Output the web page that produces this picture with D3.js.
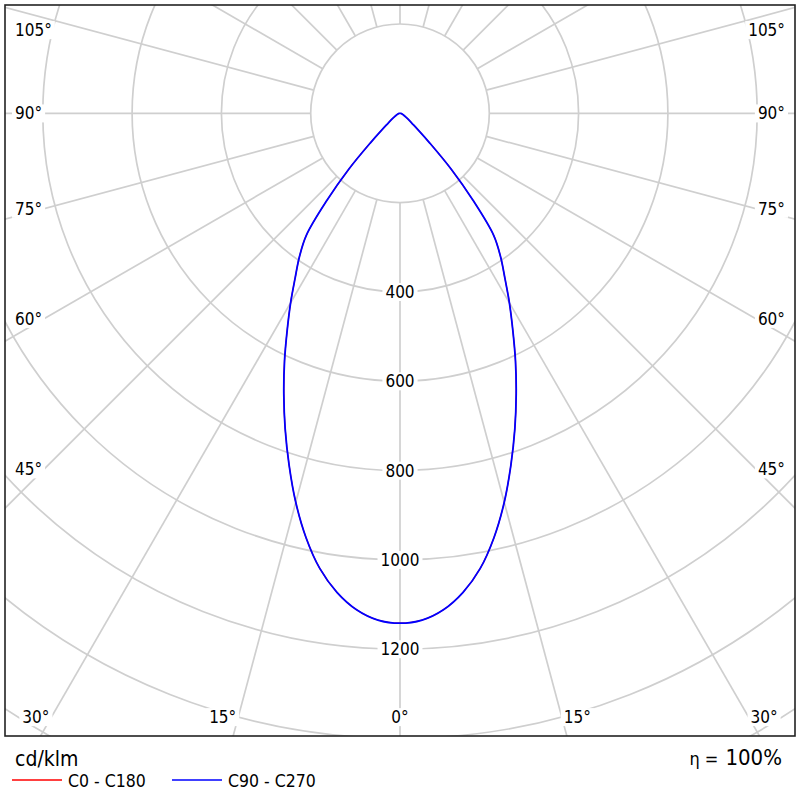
<!DOCTYPE html>
<html>
<head>
<meta charset="utf-8">
<script src="https://cdn.jsdelivr.net/npm/d3@7"></script>
<style>
  body { margin: 0; background: #fff; }
  text { font-family: "DejaVu Sans Condensed", "DejaVu Sans", sans-serif; font-stretch: condensed; fill: #000; }
</style>
</head>
<body>
<div id="chart-area"></div>
<script>
// gamma angles (deg from nadir) and intensities in cd/klm
const gammas = [0, 2.5, 5, 7.5, 10, 12.5, 15, 17.5, 20, 22.5, 25, 27.5, 30, 32.5, 35, 37.5, 40, 42.5, 45, 47.5, 50, 55, 60, 70, 80, 90];
const c0c180 = [1142, 1136, 1116, 1082, 1035, 973, 902, 826, 752, 680, 612, 547, 490, 437, 393, 345, 255, 170, 95, 55, 35, 20, 12, 5, 2, 0];
const c90c270 = [1142, 1136, 1116, 1082, 1035, 973, 902, 826, 752, 680, 612, 547, 490, 437, 393, 345, 255, 170, 95, 55, 35, 20, 12, 5, 2, 0];

const ringValues = [200, 400, 600, 800, 1000, 1200, 1400, 1600, 1800];
const ringLabels = [400, 600, 800, 1000, 1200];
const bottomAngles = [-30, -15, 0, 15, 30];
const sideAngles = [45, 60, 75, 90, 105];
const series = [
  {name: "C0 - C180", values: c0c180, color: "#ff0000", width: 1.2},
  {name: "C90 - C270", values: c90c270, color: "#0000ff", width: 1.8}
];

const W = 800, H = 800;
const frame = {x: 5, y: 5, w: 790, h: 731};
const cx = 400, cy = 113.3;

const svg = d3.select("#chart-area")
  .append("svg")
  .attr("width", W)
  .attr("height", H);

svg.append("defs").append("clipPath")
  .attr("id", "clip")
  .append("rect")
  .attr("x", frame.x).attr("y", frame.y)
  .attr("width", frame.w).attr("height", frame.h);

// radius scale
let r = d3.scaleLinear()
  .domain([0, 200])
  .range([0, 89.3]);

const toRad = d => d * Math.PI / 180;
// gamma measured from straight down, positive to the right
const px = (g, v) => cx + r(v) * Math.sin(toRad(g));
const py = (g, v) => cy + r(v) * Math.cos(toRad(g));

let plot = svg.append("g").attr("clip-path", "url(#clip)");

// rings
plot.selectAll(".ring").data(ringValues).enter().append("circle")
  .attr("cx", cx).attr("cy", cy)
  .attr("r", d => r(d))
  .attr("fill", "none")
  .attr("stroke", "#cfcfcf")
  .attr("stroke-width", 1.7);

// spokes every 15 deg, starting at the 200 ring
plot.selectAll(".spoke").data(d3.range(0, 360, 15)).enter().append("line")
  .attr("x1", d => px(d, 200)).attr("y1", d => py(d, 200))
  .attr("x2", d => px(d, 2400)).attr("y2", d => py(d, 2400))
  .attr("stroke", "#cfcfcf")
  .attr("stroke-width", 1.7);

// curves, left half mirrored
let line = d3.lineRadial()
  .angle(d => Math.PI - toRad(d.g))
  .radius(d => r(d.v))
  .curve(d3.curveCatmullRom.alpha(0.5));

series.forEach(s => {
  let pts = [];
  for (let i = gammas.length - 1; i >= 0; i--) pts.push({g: -gammas[i], v: s.values[i]});
  for (let i = 1; i < gammas.length; i++) pts.push({g: gammas[i], v: s.values[i]});
  plot.append("path")
    .datum(pts)
    .attr("transform", `translate(${cx},${cy})`)
    .attr("d", line)
    .attr("fill", "none")
    .attr("stroke", s.color)
    .attr("stroke-width", s.width)
    .attr("stroke-linejoin", "round");
});

// text with white box behind
function boxedText(x, y, txt, anchor, size) {
  let g = plot.append("g");
  let t = g.append("text")
    .attr("x", x).attr("y", y)
    .attr("dy", "0.36em")
    .attr("text-anchor", anchor)
    .attr("font-size", size + "px")
    .text(txt);
  let b = t.node().getBBox();
  g.insert("rect", "text")
    .attr("x", b.x - 3).attr("y", b.y + 1)
    .attr("width", b.width + 6).attr("height", b.height - 2)
    .attr("fill", "#fff");
}

// ring labels along nadir
ringLabels.forEach(v => boxedText(cx, cy + r(v), v, "middle", 17));

// bottom angle labels
const yBottom = 717;
bottomAngles.forEach(a => {
  let x = cx + (yBottom - cy) * Math.tan(toRad(a));
  let anchor = a < 0 ? "end" : (a > 0 ? "start" : "middle");
  x += a < 0 ? -2 : (a > 0 ? 2 : 0);
  boxedText(x, yBottom, Math.abs(a) + "°", anchor, 17);
});

// side angle labels
sideAngles.forEach(a => {
  let y = cy + (cx - 44) / Math.tan(toRad(a));
  y = Math.max(y, 30);
  boxedText(15, y, a + "°", "start", 17);
  boxedText(785, y, a + "°", "end", 17);
});

// frame
svg.append("rect")
  .attr("x", frame.x).attr("y", frame.y)
  .attr("width", frame.w).attr("height", frame.h)
  .attr("fill", "none")
  .attr("stroke", "#222")
  .attr("stroke-width", 1.6);

// unit and legend
svg.append("text")
  .attr("x", 15).attr("y", 766)
  .attr("font-size", "21px")
  .text("cd/klm");

let legend = svg.selectAll(".legend").data(series).enter().append("g")
  .attr("transform", (d, i) => `translate(${12 + i * 160}, 780)`);
legend.append("line")
  .attr("x1", 0).attr("x2", 50)
  .attr("stroke", d => d.color)
  .attr("stroke-width", 1.5);
legend.append("text")
  .attr("x", 56).attr("y", 7)
  .attr("font-size", "17.5px")
  .text(d => d.name);

let eta = svg.append("text")
  .attr("x", 782).attr("y", 765)
  .attr("text-anchor", "end");
eta.append("tspan").attr("font-size", "18px").text("η =");
eta.append("tspan").attr("font-size", "22px").attr("dx", 7).text("100%");
</script>
</body>
</html>
